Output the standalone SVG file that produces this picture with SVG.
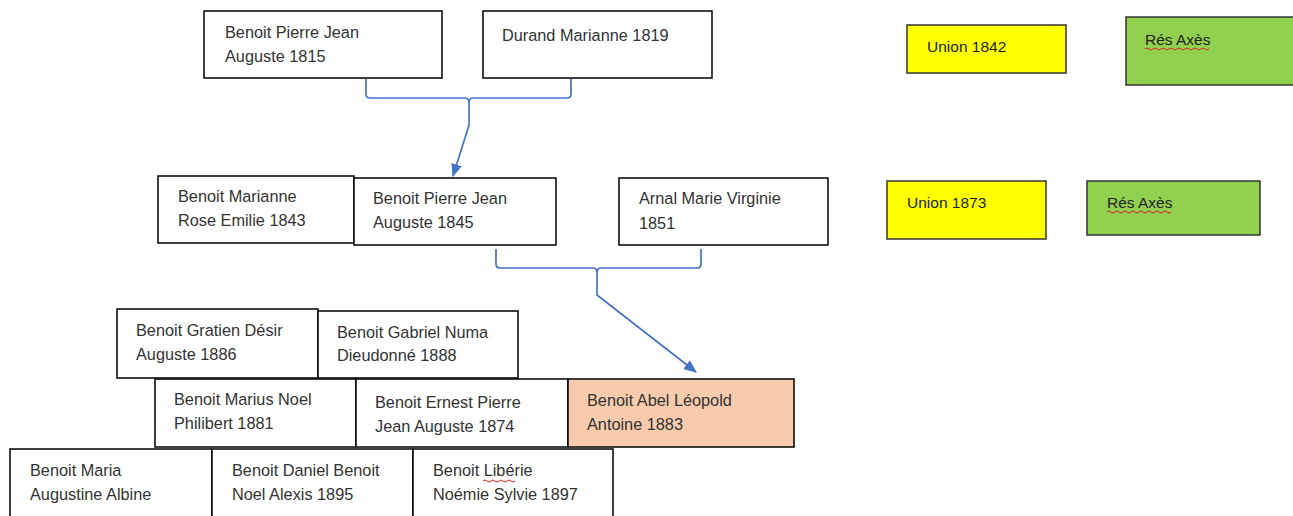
<svg xmlns="http://www.w3.org/2000/svg" width="1293" height="516" viewBox="0 0 1293 516">
<style>
.box{fill:#fff;stroke:#000;stroke-width:1.5}
.peach{fill:#F8CBAD;stroke:#000;stroke-width:1.5}
.yel{fill:#FFFF00;stroke:#333;stroke-width:1.5}
.grn{fill:#92D050;stroke:#333;stroke-width:1.5}
text{font-family:"Liberation Sans",Arial,sans-serif;font-size:16.3px;fill:#333}
.lbl{font-size:15.5px;fill:#222}
.conn{fill:none;stroke:#4472C4;stroke-width:1.7}
.sq{fill:none;stroke:#E02020;stroke-width:1}
</style>
<defs>
<marker id="ah" viewBox="0 0 12 10" refX="11" refY="5" markerWidth="13" markerHeight="11" markerUnits="userSpaceOnUse" orient="auto">
<path d="M0,0 L12,5 L0,10 z" fill="#4472C4"/>
</marker>
</defs>
<rect width="1293" height="516" fill="#fff"/>
<g id="connectors">
<path class="conn" d="M366,79 V94 Q366,98 370,98 H465 Q469,98 469,103 Q469,98 473,98 H567 Q571,98 571,94 V79"/>
<path class="conn" d="M469,103 V125 L453,176" marker-end="url(#ah)"/>
<path class="conn" d="M496,249 V264 Q496,268 500,268 H593 Q597,268 597,273 Q597,268 601,268 H697 Q701,268 701,264 V249"/>
<path class="conn" d="M597,273 V295 L696,372" marker-end="url(#ah)"/>
</g>
<g id="n1815"><rect class="box" x="204" y="11" width="238" height="67"/><text x="225" y="38">Benoit Pierre Jean</text><text x="225" y="62">Auguste 1815</text></g>
<g id="n1819"><rect class="box" x="483" y="11" width="229" height="67"/><text x="502" y="41">Durand Marianne 1819</text></g>
<g id="u1842"><rect class="yel" x="907" y="25" width="159" height="48"/><text class="lbl" x="927" y="52">Union 1842</text></g>
<g id="r1"><rect class="grn" x="1126" y="17" width="172" height="68"/><text class="lbl" x="1145" y="45">Rés Axès</text><path class="sq" d="M1145,49 q2,-2 4,0 t4,0 t4,0 t4,0 t4,0 t4,0 t4,0 t4,0 t4,0 t4,0 t4,0 t4,0 t4,0 t4,0 t4,0 t4,0"/></g>
<g id="n1843"><rect class="box" x="158" y="176" width="196" height="67"/><text x="178" y="202">Benoit Marianne</text><text x="178" y="226">Rose Emilie 1843</text></g>
<g id="n1845"><rect class="box" x="354" y="178" width="202" height="67"/><text x="373" y="204">Benoit Pierre Jean</text><text x="373" y="228">Auguste 1845</text></g>
<g id="n1851"><rect class="box" x="619" y="178" width="209" height="67"/><text x="639" y="204">Arnal Marie Virginie</text><text x="639" y="229">1851</text></g>
<g id="u1873"><rect class="yel" x="887" y="181" width="159" height="58"/><text class="lbl" x="907" y="208">Union 1873</text></g>
<g id="r2"><rect class="grn" x="1087" y="181" width="173" height="54"/><text class="lbl" x="1107" y="208">Rés Axès</text><path class="sq" d="M1107,212 q2,-2 4,0 t4,0 t4,0 t4,0 t4,0 t4,0 t4,0 t4,0 t4,0 t4,0 t4,0 t4,0 t4,0 t4,0 t4,0 t4,0"/></g>
<g id="n1886"><rect class="box" x="117" y="309" width="201" height="69"/><text x="136" y="336">Benoit Gratien Désir</text><text x="136" y="360">Auguste 1886</text></g>
<g id="n1888"><rect class="box" x="318" y="311" width="200" height="67"/><text x="337" y="338">Benoit Gabriel Numa</text><text x="337" y="361">Dieudonné 1888</text></g>
<g id="n1881"><rect class="box" x="155" y="379" width="201" height="68"/><text x="174" y="405">Benoit Marius Noel</text><text x="174" y="429">Philibert 1881</text></g>
<g id="n1874"><rect class="box" x="356" y="379" width="212" height="68"/><text x="375" y="408">Benoit Ernest Pierre</text><text x="375" y="432">Jean Auguste 1874</text></g>
<g id="n1883"><rect class="peach" x="568" y="379" width="226" height="68"/><text x="587" y="406">Benoit Abel Léopold</text><text x="587" y="430">Antoine 1883</text></g>
<g id="n_maria"><rect class="box" x="10" y="449" width="202" height="72"/><text x="30" y="476">Benoit Maria</text><text x="30" y="500">Augustine Albine</text></g>
<g id="n1895"><rect class="box" x="212" y="449" width="201" height="72"/><text x="232" y="476">Benoit Daniel Benoit</text><text x="232" y="500">Noel Alexis 1895</text></g>
<g id="n1897"><rect class="box" x="413" y="449" width="200" height="72"/><text x="433" y="476">Benoit Libérie</text><text x="433" y="500">Noémie Sylvie 1897</text><path class="sq" d="M483,481 q2,-2 4,0 t4,0 t4,0 t4,0 t4,0 t4,0 t4,0 t4,0"/></g>
</svg>
